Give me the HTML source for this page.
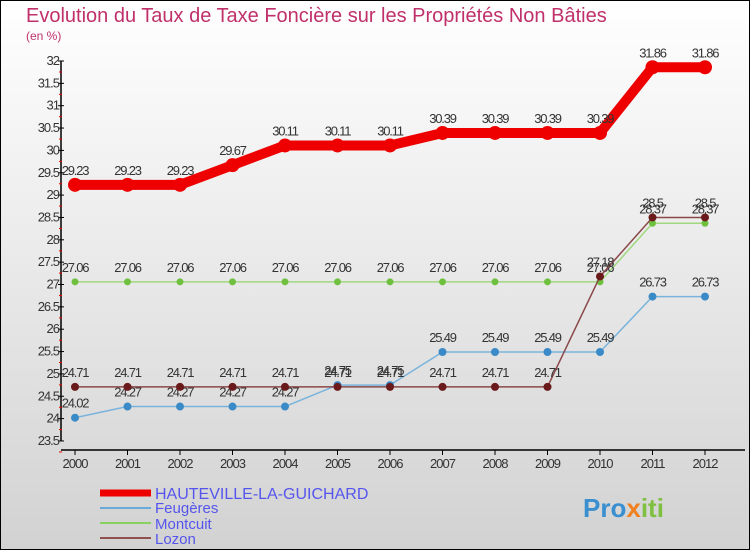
<!DOCTYPE html>
<html><head><meta charset="utf-8"><style>
body{margin:0}
#c{width:750px;height:550px;position:relative;font-family:"Liberation Sans",sans-serif}
</style></head><body>
<div id="c">
<svg id="s" width="750" height="550" xmlns="http://www.w3.org/2000/svg">
<defs><linearGradient id="bg" x1="0" y1="0" x2="0" y2="1"><stop offset="0" stop-color="#ffffff"/><stop offset="1" stop-color="#d2d2d2"/></linearGradient></defs>
<rect x="0.5" y="0.5" width="749" height="549" fill="url(#bg)" stroke="#000"/>
<text x="26" y="22" font-size="20" fill="#c0306a">Evolution du Taux de Taxe Foncière sur les Propriétés Non Bâties</text>
<text x="26" y="40" font-size="12" fill="#c0306a">(en %)</text>
<g id="axes"></g><g id="series"></g>
<g>
<line x1="100" y1="493" x2="151" y2="493" stroke="#e00" stroke-width="7"/>
<text x="155" y="499" font-size="16" fill="#5555ee">HAUTEVILLE-LA-GUICHARD</text>
<line x1="100" y1="508" x2="151" y2="508" stroke="#6aaad8" stroke-width="2"/>
<text x="155" y="513" font-size="15" fill="#5555ee">Feugères</text>
<line x1="100" y1="523" x2="151" y2="523" stroke="#88d060" stroke-width="2"/>
<text x="155" y="529" font-size="15" fill="#5555ee">Montcuit</text>
<line x1="100" y1="538" x2="151" y2="538" stroke="#905050" stroke-width="2"/>
<text x="155" y="544" font-size="15" fill="#5555ee">Lozon</text>
</g>
<text x="583" y="517" font-size="26" font-weight="bold" fill="#3a8fd0">Pro<tspan fill="#f08020">x</tspan><tspan fill="#80c040">iti</tspan></text>
</svg>
</div>
<script>
const years=[2000,2001,2002,2003,2004,2005,2006,2007,2008,2009,2010,2011,2012];
const yTicks=[23.5,24,24.5,25,25.5,26,26.5,27,27.5,28,28.5,29,29.5,30,30.5,31,31.5,32];
const hauteville=[29.23,29.23,29.23,29.67,30.11,30.11,30.11,30.39,30.39,30.39,30.39,31.86,31.86];
const feugeres=[24.02,24.27,24.27,24.27,24.27,24.75,24.75,25.49,25.49,25.49,25.49,26.73,26.73];
const montcuit=[27.06,27.06,27.06,27.06,27.06,27.06,27.06,27.06,27.06,27.06,27.06,28.37,28.37];
const lozon=[24.71,24.71,24.71,24.71,24.71,24.71,24.71,24.71,24.71,24.71,27.18,28.5,28.5];
const NS="http://www.w3.org/2000/svg";
const X=i=>75+i*52.5, Y=v=>61+(32-v)*44.7;
function mk(t,a,p){const e=document.createElementNS(NS,t);for(const k in a)e.setAttribute(k,a[k]);(p||document.getElementById('axes')).appendChild(e);return e;}
let e=mk('line',{x1:61,y1:Y(32),x2:61,y2:Y(23.5),stroke:'#000','stroke-width':1.5});


e=mk('line',{x1:61,y1:450,x2:745,y2:450,stroke:'#000','stroke-width':1.5});


yTicks.forEach(v=>{
 mk('line',{x1:58,y1:Y(v),x2:64,y2:Y(v),stroke:'#000'});
 mk('line',{x1:59,y1:Y(v)+11,x2:62,y2:Y(v)+11,stroke:'#e00'});
 const t=mk('text',{x:59,y:Y(v)+4,'font-size':13,fill:'#333','text-anchor':'end','letter-spacing':'-1'});
 t.textContent=String(v);
 
 
});
years.forEach((y,i)=>{
 mk('line',{x1:X(i),y1:450,x2:X(i),y2:455,stroke:'#000'});
 const t=mk('text',{x:X(i),y:468,'font-size':13,fill:'#333','text-anchor':'middle','letter-spacing':'-1'});
 t.textContent=y;
 
 
});
const sg=document.getElementById('series');
function series(vals,color,w,r,fill,name){
 const g=mk('g',{},sg);
 
 
 mk('polyline',{points:vals.map((v,i)=>X(i)+','+Y(v)).join(' '),fill:'none',stroke:color,'stroke-width':w,'stroke-linejoin':'round'},g);
 vals.forEach((v,i)=>{
  const c=mk('circle',{cx:X(i),cy:Y(v),r:r,fill:fill},g);
  
  
  const t=mk('text',{x:X(i),y:Y(v)-10,'font-size':13,fill:'#333','text-anchor':'middle','letter-spacing':'-1.2'},g);
  t.textContent=String(v);
  
  
 });
}
series(montcuit,'#a0d880',1.5,3.5,'#70c040','montcuit-line');
series(feugeres,'#7ab4dc',1.5,4,'#3a8ac8','feugeres-line');
series(lozon,'#8a4848',1.5,4,'#6a1a1a','lozon-line');
series(hauteville,'#e00',10,7,'#e00','hauteville-line');
</script>
</body></html>
